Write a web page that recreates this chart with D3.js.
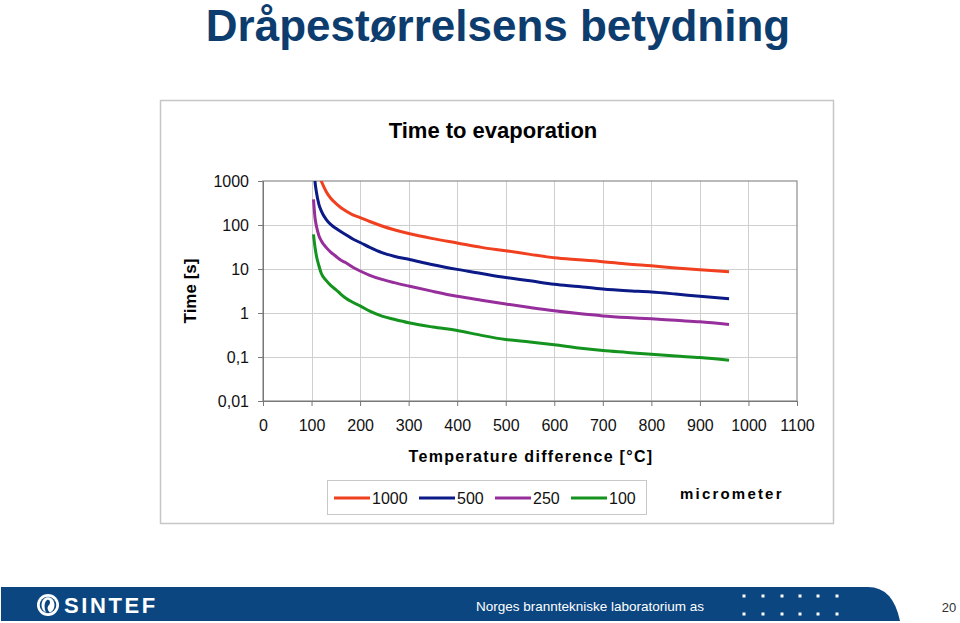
<!DOCTYPE html>
<html>
<head>
<meta charset="utf-8">
<script src="https://cdn.jsdelivr.net/npm/d3@7"></script>
<style>
  html, body { margin: 0; padding: 0; background: #fff; }
  svg { display: block; }
  text { font-family: "Liberation Sans", Arial, sans-serif; }
</style>
</head>
<body>
<svg id="chart" width="960" height="623"></svg>
<script>
// ---------- data ----------
const pageTitle = "Dråpestørrelsens betydning";
const chartTitle = "Time to evaporation";
const xTitle = "Temperature difference [°C]";
const yTitle = "Time [s]";
const unitLabel = "micrometer";
const footerText = "Norges branntekniske laboratorium as";
const pageNumber = "20";

const temps = [104, 107, 110, 115, 120, 130, 140, 150, 160, 170, 185, 200, 220, 245, 270, 300, 350, 400, 450, 500, 550, 600, 650, 700, 750, 800, 850, 900, 960];
const d1000 = [5000, 3000, 2200, 1400, 1000, 580, 400, 310, 250, 210, 170, 147, 120, 95, 78, 64, 49, 39, 31, 26, 21.5, 18, 16.2, 14.7, 13, 11.8, 10.6, 9.6, 8.7];
const d500  = [3000, 1000, 560, 300, 210, 135, 102, 84, 71, 61, 48, 40, 31, 23.5, 19.5, 16.6, 12.5, 9.8, 7.9, 6.4, 5.4, 4.5, 4.0, 3.5, 3.2, 3.0, 2.7, 2.4, 2.12];
const d250  = [383, 150, 95, 58, 44, 31, 24, 19.5, 16, 14, 11, 9, 7.2, 5.8, 4.9, 4.1, 3.1, 2.4, 1.95, 1.6, 1.33, 1.12, 0.97, 0.86, 0.79, 0.74, 0.68, 0.63, 0.55];
const d100  = [61, 32, 20, 12, 8, 5.5, 4.2, 3.4, 2.7, 2.2, 1.75, 1.45, 1.1, 0.85, 0.72, 0.6, 0.48, 0.4, 0.31, 0.25, 0.22, 0.19, 0.16, 0.14, 0.127, 0.115, 0.105, 0.097, 0.084];

const seriesNames = ["1000", "500", "250", "100"];
const seriesColors = ["#f0401f", "#0b1a86", "#962e9c", "#14931f"];
const seriesValues = [d1000, d500, d250, d100];

const xTicks = [0, 100, 200, 300, 400, 500, 600, 700, 800, 900, 1000, 1100];
const xTickLabels = ["0", "100", "200", "300", "400", "500", "600", "700", "800", "900", "1000", "1100"];
const yTicks = [0.01, 0.1, 1, 10, 100, 1000];
const yTickLabels = ["0,01", "0,1", "1", "10", "100", "1000"];

// ---------- drawing ----------
const svg = d3.select("#chart");

// page title
svg.append("text")
  .attr("x", 498).attr("y", 41)
  .attr("text-anchor", "middle")
  .attr("font-size", 44).attr("font-weight", "bold")
  .attr("fill", "#0d3d6e")
  .text(pageTitle);

// chart frame
svg.append("rect")
  .attr("x", 160.5).attr("y", 100.5).attr("width", 673).attr("height", 423)
  .attr("fill", "#fff").attr("stroke", "#c6c6c6").attr("stroke-width", 1.5);

svg.append("text")
  .attr("x", 493).attr("y", 138)
  .attr("text-anchor", "middle")
  .attr("font-size", 22).attr("font-weight", "bold").attr("fill", "#000")
  .text(chartTitle);

const x = d3.scaleLinear().domain([0, 1100]).range([263, 797]);
const y = d3.scaleLog().domain([0.01, 1000]).range([401, 181]);

// gridlines
const grid = svg.append("g");
grid.selectAll("line.v").data(xTicks.slice(1, -1)).join("line")
  .attr("x1", d => Math.round(x(d)) + 0.5).attr("x2", d => Math.round(x(d)) + 0.5)
  .attr("y1", y(1000)).attr("y2", y(0.01))
  .attr("stroke", "#cfcfcf").attr("stroke-width", 1);
grid.selectAll("line.h").data(yTicks.slice(1, -1)).join("line")
  .attr("x1", x(0)).attr("x2", x(1100))
  .attr("y1", d => Math.round(y(d)) + 0.5).attr("y2", d => Math.round(y(d)) + 0.5)
  .attr("stroke", "#cfcfcf").attr("stroke-width", 1);

// plot border
svg.append("rect")
  .attr("x", x(0)).attr("y", y(1000))
  .attr("width", x(1100) - x(0)).attr("height", y(0.01) - y(1000))
  .attr("fill", "none").attr("stroke", "#8c8c8c").attr("stroke-width", 1.2);

// axes
const yAxis = d3.axisLeft(y).tickValues(yTicks)
  .tickFormat((d, i) => yTickLabels[i]).tickSize(5).tickPadding(9);
const gy = svg.append("g").attr("transform", `translate(${x(0)},0)`).call(yAxis);
gy.select(".domain").attr("stroke", "#777");
gy.selectAll(".tick line").attr("stroke", "#777");
gy.selectAll(".tick text").attr("font-size", 16).attr("fill", "#111")
  .attr("font-family", "'Liberation Sans', Arial, sans-serif");

const xAxis = d3.axisBottom(x).tickValues(xTicks)
  .tickFormat((d, i) => xTickLabels[i]).tickSize(5).tickPadding(14);
const gx = svg.append("g").attr("transform", `translate(0,${y(0.01)})`).call(xAxis);
gx.select(".domain").attr("stroke", "#777");
gx.selectAll(".tick line").attr("stroke", "#777");
gx.selectAll(".tick text").attr("font-size", 16).attr("fill", "#111")
  .attr("font-family", "'Liberation Sans', Arial, sans-serif");

// axis titles
svg.append("text")
  .attr("transform", "translate(196,291) rotate(-90)")
  .attr("text-anchor", "middle")
  .attr("font-size", 17).attr("font-weight", "bold")
  .text(yTitle);

svg.append("text")
  .attr("x", 531).attr("y", 462)
  .attr("text-anchor", "middle")
  .attr("font-size", 16).attr("font-weight", "bold")
  .attr("letter-spacing", 1.3)
  .text(xTitle);

// series
svg.append("clipPath").attr("id", "plotclip")
  .append("rect")
  .attr("x", x(0)).attr("y", y(1000))
  .attr("width", x(1100) - x(0)).attr("height", y(0.01) - y(1000));

const line = d3.line().x(d => x(d[0])).y(d => y(d[1])).curve(d3.curveMonotoneX);
const plot = svg.append("g").attr("clip-path", "url(#plotclip)");
seriesValues.forEach((vals, i) => {
  plot.append("path")
    .datum(temps.map((t, j) => [t, vals[j]]))
    .attr("d", line)
    .attr("fill", "none")
    .attr("stroke", seriesColors[i])
    .attr("stroke-width", 3)
    .attr("stroke-linejoin", "round");
});

// legend
svg.append("rect")
  .attr("x", 327.5).attr("y", 480.5).attr("width", 319).attr("height", 34)
  .attr("fill", "#fff").attr("stroke", "#c8c8c8").attr("stroke-width", 1);
const legX = [334, 419, 495, 571];
const leg = svg.append("g");
seriesNames.forEach((name, i) => {
  leg.append("line")
    .attr("x1", legX[i]).attr("x2", legX[i] + 36)
    .attr("y1", 498).attr("y2", 498)
    .attr("stroke", seriesColors[i]).attr("stroke-width", 3);
  leg.append("text")
    .attr("x", legX[i] + 38).attr("y", 504)
    .attr("font-size", 16).attr("fill", "#111")
    .text(name);
});

svg.append("text")
  .attr("x", 680).attr("y", 499)
  .attr("font-size", 15).attr("font-weight", "bold")
  .attr("letter-spacing", 2.2)
  .text(unitLabel);

// footer band
const footer = svg.append("g");
footer.append("path")
  .attr("d", "M1,587 H868 Q893,587 900,621 H1 Z")
  .attr("fill", "#0b4680");

// logo
footer.append("circle").attr("cx", 48).attr("cy", 605).attr("r", 11).attr("fill", "#fff");
footer.append("circle").attr("cx", 48).attr("cy", 605).attr("r", 8.3).attr("fill", "#0b4680");
footer.append("path")
  .attr("d", "M46,597.5 C40,600 40,610 46,612.5 C44,608 44,602 47,600 C50,599 51,603 49,605 C47,607 47,610 50,612.5 C56,610 56,600 50,597.5 C48,597 47,597 46,597.5 Z")
  .attr("fill", "#fff");
footer.append("text")
  .attr("x", 64).attr("y", 613)
  .attr("font-size", 22).attr("font-weight", "bold")
  .attr("letter-spacing", 2.6)
  .attr("fill", "#fff")
  .text("SINTEF");

footer.append("text")
  .attr("x", 476).attr("y", 611)
  .attr("font-size", 13.5).attr("fill", "#fff")
  .text(footerText);

// dots
const dotCols = [744, 763, 782, 800, 818, 837];
const dotRows = [596, 614];
dotRows.forEach(r => dotCols.forEach(c => {
  footer.append("rect").attr("x", c - 1.5).attr("y", r - 1.5)
    .attr("width", 3).attr("height", 3).attr("fill", "#fff");
}));

svg.append("text")
  .attr("x", 949).attr("y", 612)
  .attr("text-anchor", "middle")
  .attr("font-size", 13).attr("fill", "#333")
  .text(pageNumber);
</script>
</body>
</html>
